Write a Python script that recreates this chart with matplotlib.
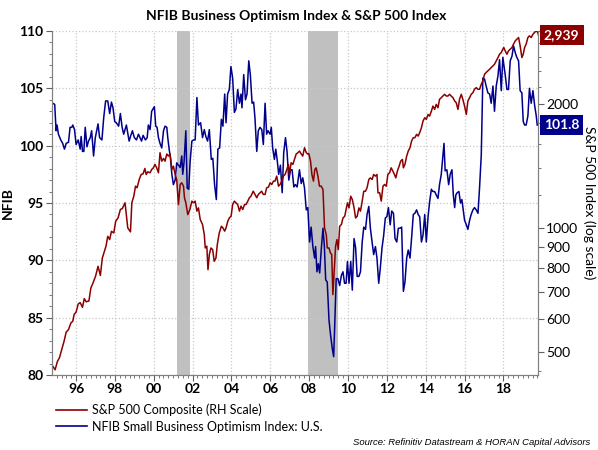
import matplotlib.pyplot as plt
from matplotlib.ticker import MultipleLocator, FixedLocator, NullFormatter
from matplotlib.lines import Line2D
from matplotlib.transforms import blended_transform_factory

# NFIB small business optimism (decimal year, index)
nfib_year = [1994.80, 1994.90, 1994.97, 1995.02, 1995.09, 1995.21, 1995.31, 1995.40, 1995.49, 1995.61,
             1995.69, 1995.78, 1995.83, 1995.92, 1996.00, 1996.11, 1996.21, 1996.26, 1996.33, 1996.40,
             1996.47, 1996.56, 1996.64, 1996.73, 1996.80, 1996.90, 1996.99, 1997.13, 1997.21, 1997.33,
             1997.42, 1997.52, 1997.63, 1997.73, 1997.82, 1997.90, 1997.99, 1998.07, 1998.19, 1998.28,
             1998.37, 1998.45, 1998.59, 1998.73, 1998.82, 1998.90, 1999.00, 1999.11, 1999.21, 1999.37,
             1999.45, 1999.57, 1999.66, 1999.72, 1999.81, 1999.89, 2000.03, 2000.10, 2000.17, 2000.24,
             2000.32, 2000.41, 2000.50, 2000.58, 2000.67, 2000.72, 2000.79, 2000.86, 2000.93, 2001.01,
             2001.10, 2001.18, 2001.27, 2001.36, 2001.44, 2001.49, 2001.56, 2001.65, 2001.72, 2001.80,
             2001.87, 2001.96, 2002.05, 2002.13, 2002.22, 2002.30, 2002.41, 2002.51, 2002.60, 2002.68,
             2002.77, 2002.86, 2002.96, 2003.04, 2003.13, 2003.22, 2003.30, 2003.39, 2003.48, 2003.56,
             2003.65, 2003.72, 2003.80, 2003.89, 2003.97, 2004.06, 2004.15, 2004.23, 2004.32, 2004.41,
             2004.49, 2004.54, 2004.63, 2004.72, 2004.80, 2004.89, 2004.97, 2005.06, 2005.14, 2005.21,
             2005.30, 2005.38, 2005.47, 2005.56, 2005.64, 2005.73, 2005.81, 2005.88, 2005.99, 2006.05,
             2006.12, 2006.21, 2006.28, 2006.35, 2006.43, 2006.52, 2006.61, 2006.69, 2006.78, 2006.86,
             2006.95, 2007.04, 2007.12, 2007.21, 2007.29, 2007.38, 2007.50, 2007.59, 2007.67, 2007.76,
             2007.85, 2007.93, 2008.02, 2008.10, 2008.19, 2008.28, 2008.33, 2008.40, 2008.47, 2008.54,
             2008.62, 2008.71, 2008.78, 2008.85, 2008.93, 2009.02, 2009.10, 2009.19, 2009.26, 2009.31,
             2009.39, 2009.48, 2009.57, 2009.66, 2009.74, 2009.82, 2009.90, 2009.97, 2010.05, 2010.14,
             2010.22, 2010.31, 2010.39, 2010.47, 2010.56, 2010.64, 2010.73, 2010.81, 2010.90, 2010.98,
             2011.07, 2011.15, 2011.24, 2011.32, 2011.41, 2011.49, 2011.58, 2011.66, 2011.75, 2011.83,
             2011.92, 2012.00, 2012.08, 2012.17, 2012.25, 2012.34, 2012.42, 2012.51, 2012.59, 2012.68,
             2012.76, 2012.85, 2012.93, 2013.02, 2013.10, 2013.19, 2013.27, 2013.36, 2013.44, 2013.53,
             2013.61, 2013.69, 2013.78, 2013.86, 2013.95, 2014.03, 2014.12, 2014.20, 2014.29, 2014.37,
             2014.46, 2014.54, 2014.63, 2014.71, 2014.80, 2014.88, 2014.94, 2015.00, 2015.09, 2015.18,
             2015.26, 2015.35, 2015.42, 2015.49, 2015.55, 2015.62, 2015.71, 2015.79, 2015.86, 2015.93,
             2016.00, 2016.09, 2016.17, 2016.26, 2016.34, 2016.43, 2016.51, 2016.60, 2016.69, 2016.77,
             2016.86, 2016.94, 2017.03, 2017.11, 2017.20, 2017.29, 2017.37, 2017.46, 2017.54, 2017.63,
             2017.72, 2017.80, 2017.89, 2017.97, 2018.02, 2018.09, 2018.18, 2018.26, 2018.35, 2018.44,
             2018.52, 2018.61, 2018.69, 2018.78, 2018.86, 2018.95, 2019.02, 2019.09, 2019.17, 2019.26,
             2019.34, 2019.43, 2019.52, 2019.60, 2019.69, 2019.74]
nfib_val = [103.7, 103.6, 101.3, 101.8, 101.0, 100.5, 100.2, 99.7, 100.2, 100.3,
            101.6, 101.6, 101.8, 101.4, 100.1, 100.5, 99.7, 100.8, 99.5, 99.5,
            101.6, 99.9, 100.4, 100.7, 101.3, 99.1, 100.7, 101.9, 100.7, 100.5,
            102.4, 103.9, 103.9, 102.8, 103.8, 103.3, 102.1, 102.0, 101.7, 102.8,
            101.6, 101.0, 101.8, 100.4, 100.9, 101.3, 100.7, 100.5, 101.0, 100.4,
            100.9, 100.5, 100.7, 101.8, 101.4, 103.0, 103.4, 101.7, 101.6, 100.7,
            100.2, 99.8, 101.3, 101.7, 101.6, 100.7, 99.7, 98.9, 97.5, 96.6,
            97.0, 98.5, 98.3, 98.1, 99.1, 97.5, 98.6, 101.3, 96.3, 96.2,
            98.6, 100.4, 100.5, 100.5, 104.2, 101.8, 102.0, 100.7, 101.4, 100.8,
            100.4, 101.4, 98.8, 98.9, 96.6, 95.3, 99.7, 99.8, 102.3, 101.7,
            104.5, 102.0, 104.5, 104.9, 106.9, 105.9, 102.9, 103.2, 104.9, 103.7,
            104.5, 103.3, 106.2, 104.0, 104.5, 107.4, 106.2, 103.7, 103.8, 102.4,
            99.5, 101.3, 101.6, 101.4, 100.1, 103.7, 101.0, 101.3, 101.0, 101.6,
            99.8, 98.8, 99.7, 98.8, 97.5, 98.3, 95.9, 99.4, 100.7, 99.5,
            97.0, 97.9, 97.9, 96.4, 96.6, 96.4, 97.9, 96.7, 97.2, 96.3,
            94.4, 94.6, 91.6, 92.9, 91.2, 90.2, 91.2, 89.0, 89.7, 88.9,
            90.9, 92.8, 91.3, 88.3, 88.1, 84.8, 83.5, 82.3, 81.6, 84.1,
            88.4, 88.4, 87.8, 88.7, 89.0, 88.0, 88.0, 89.9, 88.0, 89.9,
            87.4, 91.9, 91.1, 88.6, 88.6, 89.0, 91.6, 92.9, 92.7, 94.0,
            94.7, 92.8, 91.6, 90.5, 91.2, 90.2, 88.0, 89.3, 91.1, 92.1,
            93.7, 93.8, 94.6, 93.1, 94.3, 94.1, 91.9, 91.6, 92.8, 92.8,
            92.9, 87.3, 88.1, 90.2, 90.9, 90.2, 91.9, 94.0, 94.1, 94.4,
            94.0, 93.8, 91.6, 92.2, 94.0, 91.6, 93.8, 95.1, 96.2, 96.0,
            96.0, 95.7, 95.4, 96.6, 97.5, 99.0, 100.2, 97.8, 97.9, 96.6,
            97.5, 97.9, 95.7, 94.6, 95.7, 95.9, 96.0, 95.0, 95.3, 94.4,
            93.5, 93.1, 92.7, 93.5, 94.0, 94.4, 94.6, 94.4, 94.1, 96.3,
            99.2, 105.9, 105.8, 105.2, 104.6, 104.5, 103.7, 105.2, 103.0, 105.2,
            106.1, 107.5, 104.8, 107.7, 107.1, 106.2, 104.9, 104.9, 107.4, 107.8,
            108.7, 108.1, 107.7, 107.4, 104.8, 104.6, 102.1, 101.8, 101.8, 102.6,
            105.0, 103.7, 104.8, 103.6, 102.6, 101.8]

# S&P 500 composite (decimal year, index level)
spx_year = [1994.75, 1994.92, 1995.04, 1995.14, 1995.26, 1995.38, 1995.49, 1995.61, 1995.73, 1995.83,
            1995.90, 1996.00, 1996.11, 1996.21, 1996.33, 1996.42, 1996.52, 1996.66, 1996.76, 1996.87,
            1997.00, 1997.13, 1997.25, 1997.35, 1997.54, 1997.63, 1997.73, 1997.82, 1997.94, 1998.04,
            1998.16, 1998.28, 1998.38, 1998.52, 1998.66, 1998.80, 1998.87, 1998.97, 1999.06, 1999.14,
            1999.25, 1999.35, 1999.45, 1999.54, 1999.61, 1999.69, 1999.81, 1999.89, 1999.98, 2000.06,
            2000.15, 2000.24, 2000.32, 2000.41, 2000.50, 2000.58, 2000.67, 2000.75, 2000.84, 2000.93,
            2001.01, 2001.10, 2001.18, 2001.27, 2001.36, 2001.44, 2001.53, 2001.58, 2001.65, 2001.75,
            2001.86, 2001.96, 2002.05, 2002.13, 2002.22, 2002.30, 2002.39, 2002.51, 2002.60, 2002.65,
            2002.73, 2002.79, 2002.86, 2002.94, 2003.03, 2003.11, 2003.20, 2003.27, 2003.37, 2003.48,
            2003.56, 2003.65, 2003.72, 2003.81, 2003.89, 2003.98, 2004.06, 2004.15, 2004.23, 2004.32,
            2004.41, 2004.49, 2004.58, 2004.67, 2004.75, 2004.84, 2004.92, 2005.00, 2005.12, 2005.21,
            2005.30, 2005.38, 2005.47, 2005.55, 2005.64, 2005.73, 2005.81, 2005.90, 2005.99, 2006.07,
            2006.16, 2006.24, 2006.33, 2006.42, 2006.50, 2006.59, 2006.67, 2006.76, 2006.85, 2006.93,
            2006.98, 2007.07, 2007.16, 2007.24, 2007.33, 2007.42, 2007.50, 2007.59, 2007.67, 2007.76,
            2007.85, 2007.93, 2007.98, 2008.07, 2008.14, 2008.22, 2008.29, 2008.36, 2008.45, 2008.53,
            2008.62, 2008.71, 2008.79, 2008.88, 2008.93, 2009.02, 2009.09, 2009.16, 2009.22, 2009.29,
            2009.36, 2009.43, 2009.50, 2009.57, 2009.66, 2009.74, 2009.83, 2009.90, 2009.97, 2010.05,
            2010.14, 2010.22, 2010.31, 2010.39, 2010.47, 2010.56, 2010.64, 2010.73, 2010.81, 2010.90,
            2010.98, 2011.07, 2011.15, 2011.24, 2011.32, 2011.41, 2011.49, 2011.54, 2011.63, 2011.71,
            2011.80, 2011.88, 2011.97, 2012.05, 2012.14, 2012.22, 2012.31, 2012.39, 2012.46, 2012.54,
            2012.63, 2012.71, 2012.80, 2012.85, 2012.93, 2013.02, 2013.10, 2013.19, 2013.27, 2013.36,
            2013.44, 2013.53, 2013.61, 2013.69, 2013.78, 2013.86, 2013.95, 2014.03, 2014.12, 2014.20,
            2014.29, 2014.37, 2014.46, 2014.54, 2014.63, 2014.71, 2014.80, 2014.88, 2014.97, 2015.06,
            2015.14, 2015.23, 2015.31, 2015.40, 2015.49, 2015.57, 2015.66, 2015.74, 2015.83, 2015.91,
            2016.00, 2016.09, 2016.17, 2016.26, 2016.34, 2016.43, 2016.51, 2016.60, 2016.69, 2016.77,
            2016.86, 2016.94, 2017.03, 2017.11, 2017.20, 2017.29, 2017.37, 2017.46, 2017.54, 2017.63,
            2017.72, 2017.80, 2017.89, 2017.97, 2018.02, 2018.09, 2018.18, 2018.26, 2018.35, 2018.44,
            2018.52, 2018.61, 2018.69, 2018.78, 2018.86, 2018.95, 2019.02, 2019.09, 2019.17, 2019.26,
            2019.34, 2019.43, 2019.52, 2019.60, 2019.69, 2019.77, 2019.80]
spx_val = [466, 453, 475, 484, 507, 531, 559, 567, 588, 594,
           617, 625, 654, 659, 642, 674, 662, 665, 715, 735,
           763, 807, 767, 845, 903, 954, 937, 981, 972, 1038,
           1057, 1108, 1114, 1150, 1000, 978, 1150, 1193, 1262, 1251,
           1310, 1347, 1352, 1393, 1347, 1367, 1360, 1385, 1398, 1425,
           1398, 1360, 1521, 1451, 1473, 1451, 1510, 1493, 1510, 1385,
           1411, 1347, 1310, 1139, 1274, 1286, 1262, 1183, 1150, 1077,
           1108, 1161, 1150, 1161, 1098, 1118, 1048, 1019, 963, 894,
           903, 792, 862, 894, 886, 830, 845, 911, 972, 1009,
           1000, 982, 1000, 1038, 1057, 1067, 1139, 1161, 1150, 1139,
           1098, 1129, 1108, 1139, 1139, 1161, 1183, 1193, 1227, 1205,
           1183, 1205, 1216, 1227, 1205, 1205, 1251, 1255, 1286, 1274,
           1298, 1298, 1335, 1262, 1274, 1298, 1335, 1347, 1385, 1425,
           1347, 1438, 1425, 1465, 1510, 1521, 1535, 1510, 1493, 1564,
           1521, 1510, 1514, 1451, 1347, 1298, 1385, 1398, 1335, 1262,
           1262, 1239, 1000, 963, 894, 894, 870, 862, 689, 785,
           903, 937, 886, 1009, 1019, 1057, 1067, 1108, 1150, 1118,
           1193, 1172, 1118, 1057, 1067, 1118, 1098, 1161, 1227, 1227,
           1251, 1310, 1322, 1310, 1347, 1335, 1347, 1216, 1216, 1161,
           1262, 1274, 1262, 1347, 1360, 1398, 1372, 1347, 1322, 1372,
           1411, 1451, 1465, 1398, 1425, 1493, 1535, 1564, 1623, 1654,
           1654, 1685, 1669, 1701, 1749, 1815, 1849, 1832, 1883, 1866,
           1918, 1973, 1937, 1992, 1955, 2049, 2068, 2087, 2107, 2087,
           2087, 2107, 2087, 2068, 2030, 2011, 1937, 2049, 2107, 2049,
           1973, 1883, 2030, 2068, 2107, 2127, 2167, 2187, 2167, 2167,
           2229, 2271, 2358, 2380, 2402, 2424, 2447, 2469, 2492, 2539,
           2587, 2635, 2660, 2711, 2736, 2685, 2635, 2685, 2711, 2736,
           2788, 2840, 2866, 2893, 2762, 2587, 2635, 2736, 2788, 2893,
           2920, 2893, 2947, 2975, 3003, 2975, 2939]

recession_start = [2001.17, 2007.92]
recession_end = [2001.84, 2009.50]

year_ticks = [1996, 1998, 2000, 2002, 2004, 2006, 2008, 2010, 2012, 2014, 2016, 2018]
year_labels = ['96', '98', '00', '02', '04', '06', '08', '10', '12', '14', '16', '18']
nfib_ticks = [80, 85, 90, 95, 100, 105, 110]
spx_ticks = [500, 600, 700, 800, 900, 1000, 2000, 3000]

RED = '#8B0000'
BLUE = '#00008B'

plt.rcParams['font.family'] = ['Lato', 'DejaVu Sans']

fig = plt.figure(figsize=(5.98, 4.5), dpi=100)
ax = fig.add_axes([52 / 598, 75 / 450, 486 / 598, 344 / 450])
ax2 = ax.twinx()

for s, e in zip(recession_start, recession_end):
    ax.axvspan(s, e, color='#c0c0c0', lw=0, zorder=0)

ax.plot(nfib_year, nfib_val, color=BLUE, lw=1.1, zorder=2)
ax2.plot(spx_year, spx_val, color=RED, lw=1.1)

ax.set_xlim(1994.76, 2019.78)
ax.set_ylim(80, 110)
ax2.set_yscale('log')
ax2.set_ylim(440, 3000)

ax.xaxis.set_major_locator(FixedLocator(year_ticks))
ax.set_xticklabels(year_labels, fontweight='bold', fontsize=10)
ax.xaxis.set_minor_locator(MultipleLocator(0.25))
ax.yaxis.set_major_locator(FixedLocator(nfib_ticks))
ax.set_yticklabels([str(t) for t in nfib_ticks], fontweight='bold', fontsize=10)
ax.yaxis.set_minor_locator(MultipleLocator(1))

ax2.yaxis.set_major_locator(FixedLocator(spx_ticks))
ax2.yaxis.set_minor_locator(FixedLocator([450, 1200, 1400, 1600, 1800, 2200, 2400, 2600, 2800]))
ax2.yaxis.set_minor_formatter(NullFormatter())
ax2.set_yticklabels([str(t) for t in spx_ticks], fontsize=10)

for a in (ax, ax2):
    a.tick_params(which='major', direction='out', length=4, width=0.8, color='#606060', pad=2)
    a.tick_params(which='minor', direction='out', length=2, width=0.6, color='#606060')
    for sp in a.spines.values():
        sp.set_color('#808080')
        sp.set_linewidth(0.8)
    a.spines['top'].set_visible(False)

ax.grid(True, which='major', color='#c8c8c8', linestyle=':', linewidth=0.9)
ax.set_axisbelow(True)

ax.set_ylabel('NFIB', fontsize=10, fontweight='bold', labelpad=4)
ax2.set_ylabel('S&P 500 Index (log scale)', fontsize=10, rotation=270, va='bottom', labelpad=3)

fig.text(0.495, 0.965, 'NFIB Business Optimism Index & S&P 500 Index',
         ha='center', va='center', fontsize=10, fontweight='bold')

# end-value tags on the right axis
tag_tf_spx = blended_transform_factory(ax2.transAxes, ax2.transData)
tag_tf_nfib = blended_transform_factory(ax2.transAxes, ax.transData)
ax2.text(1.012, spx_val[-1], f'{spx_val[-1]:,}', transform=tag_tf_spx, ha='left', va='center',
         color='white', fontsize=10, fontweight='bold', clip_on=False, zorder=5,
         bbox=dict(boxstyle='square,pad=0.3', fc=RED, ec='none'))
ax2.text(1.012, nfib_val[-1], f'{nfib_val[-1]:.1f}', transform=tag_tf_nfib, ha='left', va='center',
         color='white', fontsize=10, fontweight='bold', clip_on=False, zorder=5,
         bbox=dict(boxstyle='square,pad=0.3', fc=BLUE, ec='none'))

handles = [Line2D([], [], color=RED, lw=1.2), Line2D([], [], color=BLUE, lw=1.2)]
fig.legend(handles, ['S&P 500 Composite (RH Scale)', 'NFIB Small Business Optimism Index: U.S.'],
           loc='upper left', bbox_to_anchor=(0.093, 0.103), frameon=False, fontsize=9,
           handlelength=2.5, handletextpad=0.45, labelspacing=0.35, borderaxespad=0, borderpad=0)

fig.text(0.987, 0.016, 'Source: Refinitiv Datastream & HORAN Capital Advisors', ha='right', va='center',
         fontsize=6.8, style='italic', family=['Liberation Sans', 'DejaVu Sans'])

fig.savefig('out.png', dpi=100)
